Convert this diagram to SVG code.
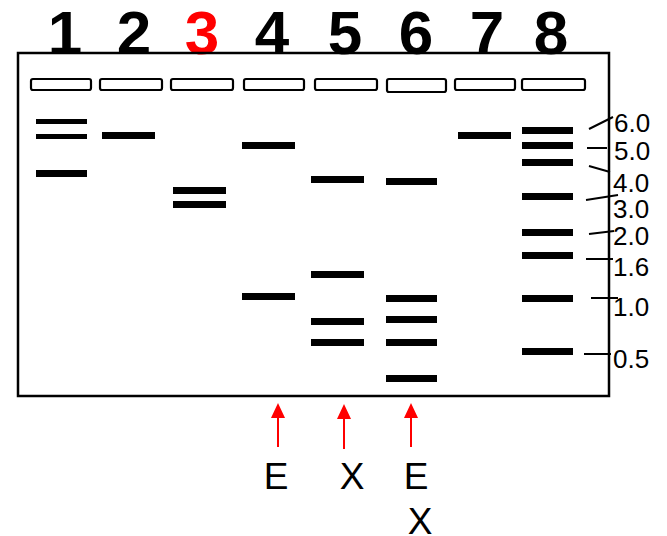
<svg xmlns="http://www.w3.org/2000/svg" width="667" height="536" viewBox="0 0 667 536">
<style>
.num{font-family:"Liberation Sans",Arial,sans-serif;font-weight:bold;font-size:62px;text-anchor:middle;fill:#000}
.well{fill:#fff;stroke:#000;stroke-width:2.2}
.band{fill:#000}
.tick{stroke:#000;stroke-width:2;fill:none}
.size{font-family:"Liberation Sans",Arial,sans-serif;font-size:26px;fill:#000}
.lab{font-family:"Liberation Sans",Arial,sans-serif;font-size:37px;fill:#000;text-anchor:middle}
.arr{stroke:#f00;stroke-width:2;fill:none}
.head{fill:#f00}
</style>
<rect width="667" height="536" fill="#fff"/>
<g id="lane-numbers">
<text class="num" x="65" y="54">1</text>
<text class="num" x="134" y="54">2</text>
<text class="num" x="202" y="54" style="fill:#f00">3</text>
<text class="num" x="272" y="54">4</text>
<text class="num" x="345" y="54">5</text>
<text class="num" x="416" y="54">6</text>
<text class="num" x="487" y="54">7</text>
<text class="num" x="551" y="54">8</text>
</g>
<g id="gel">
<rect x="18" y="53" width="591" height="343" fill="none" stroke="#000" stroke-width="2.5"/>
</g>
<g id="wells">
<rect class="well" x="31" y="79" width="60" height="11" rx="2"/>
<rect class="well" x="100" y="79" width="62" height="11" rx="2"/>
<rect class="well" x="171" y="79" width="62" height="11" rx="2"/>
<rect class="well" x="244" y="79" width="60" height="11" rx="2"/>
<rect class="well" x="315" y="79" width="62" height="11" rx="2"/>
<rect class="well" x="387" y="79" width="59" height="13" rx="2"/>
<rect class="well" x="455" y="79" width="60" height="11" rx="2"/>
<rect class="well" x="522" y="79" width="63" height="11" rx="2"/>
</g>
<g id="lane1">
<rect class="band" x="36" y="119" width="51" height="5"/>
<rect class="band" x="36" y="134" width="51" height="5"/>
<rect class="band" x="36" y="170" width="51" height="7"/>
</g>
<g id="lane2">
<rect class="band" x="102" y="132" width="53" height="7"/>
</g>
<g id="lane3">
<rect class="band" x="173" y="187" width="53" height="7"/>
<rect class="band" x="173" y="201" width="53" height="7"/>
</g>
<g id="lane4">
<rect class="band" x="242" y="142" width="53" height="7"/>
<rect class="band" x="242" y="293" width="53" height="7"/>
</g>
<g id="lane5">
<rect class="band" x="311" y="176" width="53" height="7"/>
<rect class="band" x="311" y="271" width="53" height="7"/>
<rect class="band" x="311" y="318" width="53" height="7"/>
<rect class="band" x="311" y="339" width="53" height="7"/>
</g>
<g id="lane6">
<rect class="band" x="386" y="178" width="51" height="7"/>
<rect class="band" x="386" y="295" width="51" height="7"/>
<rect class="band" x="386" y="316" width="51" height="7"/>
<rect class="band" x="386" y="339" width="51" height="7"/>
<rect class="band" x="386" y="375" width="51" height="7"/>
</g>
<g id="lane7">
<rect class="band" x="458" y="132" width="53" height="7"/>
</g>
<g id="lane8">
<rect class="band" x="522" y="127" width="51" height="7"/>
<rect class="band" x="522" y="142" width="51" height="7"/>
<rect class="band" x="522" y="159" width="51" height="7"/>
<rect class="band" x="522" y="193" width="51" height="7"/>
<rect class="band" x="522" y="229" width="51" height="7"/>
<rect class="band" x="522" y="252" width="51" height="7"/>
<rect class="band" x="522" y="295" width="51" height="7"/>
<rect class="band" x="522" y="348" width="51" height="7"/>
</g>
<g id="size-ticks">
<line class="tick" x1="589" y1="129" x2="613" y2="117"/>
<line class="tick" x1="587" y1="148" x2="607" y2="148"/>
<line class="tick" x1="589" y1="166" x2="610" y2="172"/>
<line class="tick" x1="586" y1="200" x2="618" y2="195"/>
<line class="tick" x1="589" y1="234" x2="614" y2="231"/>
<line class="tick" x1="586" y1="259" x2="613" y2="259"/>
<line class="tick" x1="591" y1="298" x2="618" y2="298"/>
<line class="tick" x1="584" y1="354" x2="611" y2="354"/>
</g>
<g id="size-labels">
<text class="size" x="614" y="132">6.0</text>
<text class="size" x="614" y="160">5.0</text>
<text class="size" x="613" y="192">4.0</text>
<text class="size" x="613" y="218">3.0</text>
<text class="size" x="613" y="245">2.0</text>
<text class="size" x="613" y="276">1.6</text>
<text class="size" x="613" y="316">1.0</text>
<text class="size" x="613" y="368">0.5</text>
</g>
<g id="arrows">
<line class="arr" x1="278" y1="447" x2="278" y2="416"/>
<polygon class="head" points="278,403 271,418 285,418"/>
<line class="arr" x1="344" y1="449" x2="344" y2="417"/>
<polygon class="head" points="344,404 337,419 351,419"/>
<line class="arr" x1="411" y1="447" x2="411" y2="416"/>
<polygon class="head" points="411,403 404,418 418,418"/>
</g>
<g id="enzyme-labels">
<text class="lab" x="276" y="489">E</text>
<text class="lab" x="352" y="489">X</text>
<text class="lab" x="416" y="489">E</text>
<text class="lab" x="420" y="534">X</text>
</g>
</svg>
